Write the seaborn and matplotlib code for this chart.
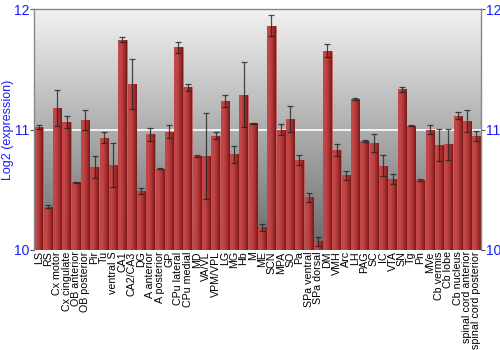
import numpy as np
import pandas as pd
import matplotlib
matplotlib.use("Agg")
import matplotlib.pyplot as plt
import seaborn as sns
from matplotlib.colors import LinearSegmentedColormap

regions = ["LS", "RS", "Cx motor", "Cx cingulate", "OB anterior", "OB posterior",
           "Pir", "Tu", "ventral S", "CA1", "CA2/CA3", "DG", "A anterior",
           "A posterior", "GP", "CPu lateral", "CPu medial", "MD", "VA/VL",
           "VPM/VPL", "LG", "MG", "Hb", "M", "ME", "SCN", "MPA", "SO", "Pa",
           "SPa ventral", "SPa dorsal", "DM", "VMH", "Arc", "LH", "PAG", "SC",
           "IC", "VTA", "SN", "Tg", "Pn", "MVe", "Cb vermis", "Cb lobe",
           "Cb nucleus", "spinal cord anterior", "spinal cord posterior"]
expression = [11.022, 10.359, 11.182, 11.064, 10.561, 11.075, 10.688, 10.931,
              10.707, 11.746, 11.378, 10.492, 10.959, 10.674, 10.983, 11.682,
              11.351, 10.782, 10.782, 10.950, 11.240, 10.793, 11.287, 11.050,
              10.188, 11.862, 11.000, 11.086, 10.749, 10.436, 10.072, 11.655,
              10.829, 10.619, 11.254, 10.906, 10.887, 10.699, 10.591, 11.334,
              11.033, 10.577, 11.000, 10.870, 10.878, 11.116, 11.072, 10.948]
error = [0.015, 0.01, 0.15, 0.05, 0.005, 0.083, 0.088, 0.047,
         0.185, 0.02, 0.206, 0.026, 0.052, 0.005, 0.054, 0.043,
         0.03, 0.01, 0.357, 0.026, 0.05, 0.069, 0.27, 0.003,
         0.03, 0.086, 0.048, 0.108, 0.041, 0.037, 0.037, 0.054,
         0.05, 0.035, 0.005, 0.008, 0.076, 0.086, 0.041, 0.019,
         0.004, 0.008, 0.035, 0.133, 0.13, 0.028, 0.09, 0.04]
yticks = [10, 11, 12]

df = pd.DataFrame({"region": regions, "expression": expression, "error": error})

sns.set_style("white")
plt.rcParams["font.family"] = ["Liberation Sans", "DejaVu Sans"]

fig = plt.figure(figsize=(5, 3.5), dpi=100)
ax = fig.add_axes([0.068, 0.286, 0.894, 0.688])

sns.barplot(data=df, x="region", y="expression", color="#b33333", width=0.9,
            errorbar=None, ax=ax, zorder=2, saturation=1)

ax.set_ylim(10, 12)
ax.set_xlim(-0.5, len(regions) - 0.5)

# background vertical gradient
bg = LinearSegmentedColormap.from_list("bg", ["#6a6a6a", "#f2f2f2"])
grad = np.linspace(0, 1, 256).reshape(-1, 1)
ax.imshow(grad, aspect="auto", cmap=bg, origin="lower",
          extent=[-0.5, len(regions) - 0.5, 10, 12], zorder=0)
ax.axhline(11, color="white", lw=1.2, zorder=1)

# horizontal gradient on bars
barcm = LinearSegmentedColormap.from_list("bar", ["#c44848", "#c04545", "#a83030", "#7a1818"])
hgrad = np.linspace(0, 1, 64).reshape(1, -1)
for p in list(ax.patches):
    x0, w = p.get_x(), p.get_width()
    top = p.get_y() + p.get_height()
    im = ax.imshow(hgrad, aspect="auto", cmap=barcm,
                   extent=[x0, x0 + w, 10, top], zorder=2.5)
    im.set_clip_path(p)
    p.set_edgecolor("#d06060")
    p.set_linewidth(0.4)

ax.errorbar(np.arange(len(regions)), df["expression"], yerr=df["error"],
            fmt="none", ecolor="#222222", elinewidth=0.9, capsize=2,
            capthick=0.9, alpha=0.8, zorder=3)

ax.set_xlabel("")
ax.set_ylabel("Log2 (expression)", color="#1a1aff", fontsize=9)
ax.yaxis.set_label_coords(-0.045, 0.5)
ax.set_yticks(yticks)
ax.set_yticklabels([str(t) for t in yticks])
ax.tick_params(axis="y", colors="#1a1aff", labelsize=10, length=3, width=0.8,
               pad=0.5, left=True, right=True, labelright=True, direction="out")
for lab in ax.get_yticklabels():
    lab.set_color("#1a1aff")
ax.tick_params(axis="x", labelsize=7.7, rotation=90, length=0, pad=1)
for lab in ax.get_xticklabels():
    lab.set_color("black")
ax.tick_params(axis="y", color="#555555")

for s in ["left", "right", "top"]:
    ax.spines[s].set_visible(True)
    ax.spines[s].set_color("#888888")
    ax.spines[s].set_linewidth(1)
ax.spines["bottom"].set_visible(False)

fig.savefig("out.png", dpi=100)
